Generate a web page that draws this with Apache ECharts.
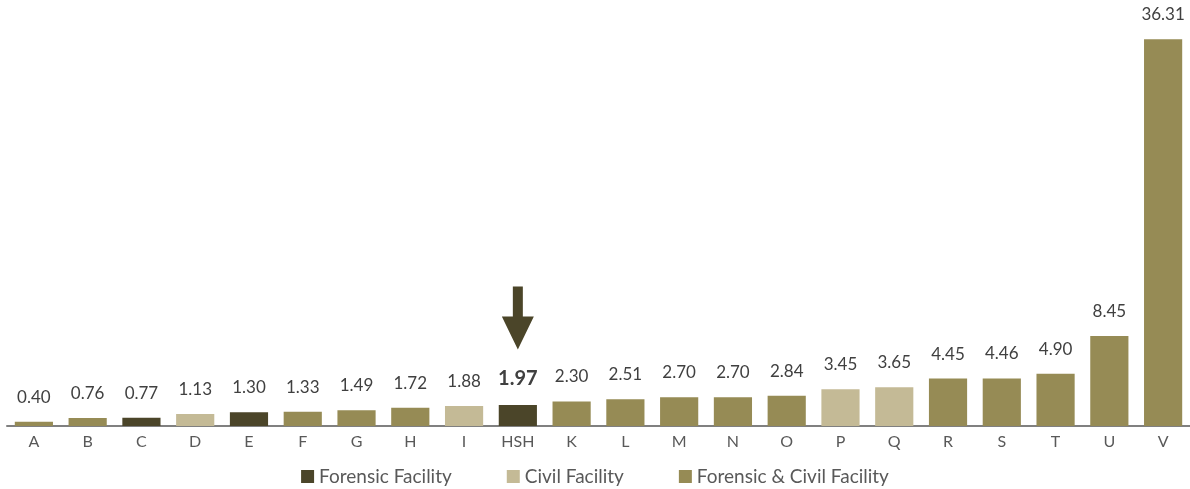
<!DOCTYPE html>
<html>
<head>
<meta charset="utf-8">
<script src="https://cdn.jsdelivr.net/npm/echarts@6/dist/echarts.min.js"></script>
<style>html,body{margin:0;padding:0;background:#fff;}#c{width:1190px;height:489px;}</style>
</head>
<body>
<div id="c"></div>
<script>
const categories = ['A','B','C','D','E','F','G','H','I','HSH','K','L','M','N','O','P','Q','R','S','T','U','V'];
const values = [0.40,0.76,0.77,1.13,1.30,1.33,1.49,1.72,1.88,1.97,2.30,2.51,2.70,2.70,2.84,3.45,3.65,4.45,4.46,4.90,8.45,36.31];
// F = Forensic, C = Civil, B = Forensic & Civil
const types = ['B','B','F','C','F','B','B','B','C','F','B','B','B','B','B','C','C','B','B','B','B','B'];
const seriesNames = ['Forensic Facility','Civil Facility','Forensic & Civil Facility'];
const seriesKeys = ['F','C','B'];
const seriesColors = ['#4B4529','#C4BA96','#968B55'];
const highlight = 'HSH';

const FONT = 'Lato, "Liberation Sans", sans-serif';
const series = seriesKeys.map((k, si) => ({
  name: seriesNames[si],
  type: 'bar',
  stack: 'all',
  barWidth: '71%',
  itemStyle: { color: seriesColors[si] },
  label: {
    show: true, position: 'top', distance: 16,
    color: '#404040', fontSize: 17, fontFamily: FONT,
    formatter: p => (typeof p.value === 'number' ? p.value.toFixed(2) : '')
  },
  data: categories.map((c, i) => {
    if (types[i] !== k) return '-';
    if (c === highlight) return { value: values[i], label: { fontWeight: 'bold', fontSize: 20 } };
    return values[i];
  }),
  markPoint: k === 'F' ? {
    symbol: 'path://M11,0 L21,0 L21,30 L32,30 L16,63 L0,30 L11,30 Z',
    symbolSize: [32, 63],
    symbolOffset: [0, -87],
    itemStyle: { color: '#4B4529' },
    label: { show: false },
    data: [{ coord: [highlight, values[categories.indexOf(highlight)]] }]
  } : undefined
}));

const chart = echarts.init(document.getElementById('c'));
chart.setOption({
  animation: false,
  grid: { left: 7, right: 0, top: 0, bottom: 63, containLabel: false },
  legend: {
    bottom: -2, left: 'center', itemGap: 55, itemWidth: 13, itemHeight: 13,
    icon: 'rect',
    textStyle: { color: '#595959', fontSize: 19, fontFamily: FONT },
    data: seriesNames
  },
  xAxis: {
    type: 'category', data: categories,
    axisTick: { show: false },
    axisLine: { lineStyle: { color: '#808080', width: 2 } },
    axisLabel: { color: '#595959', fontSize: 16, fontFamily: FONT, margin: 8 }
  },
  yAxis: { type: 'value', min: 0, max: 40, show: false, splitLine: { show: false } },
  series
});
</script>
</body>
</html>
